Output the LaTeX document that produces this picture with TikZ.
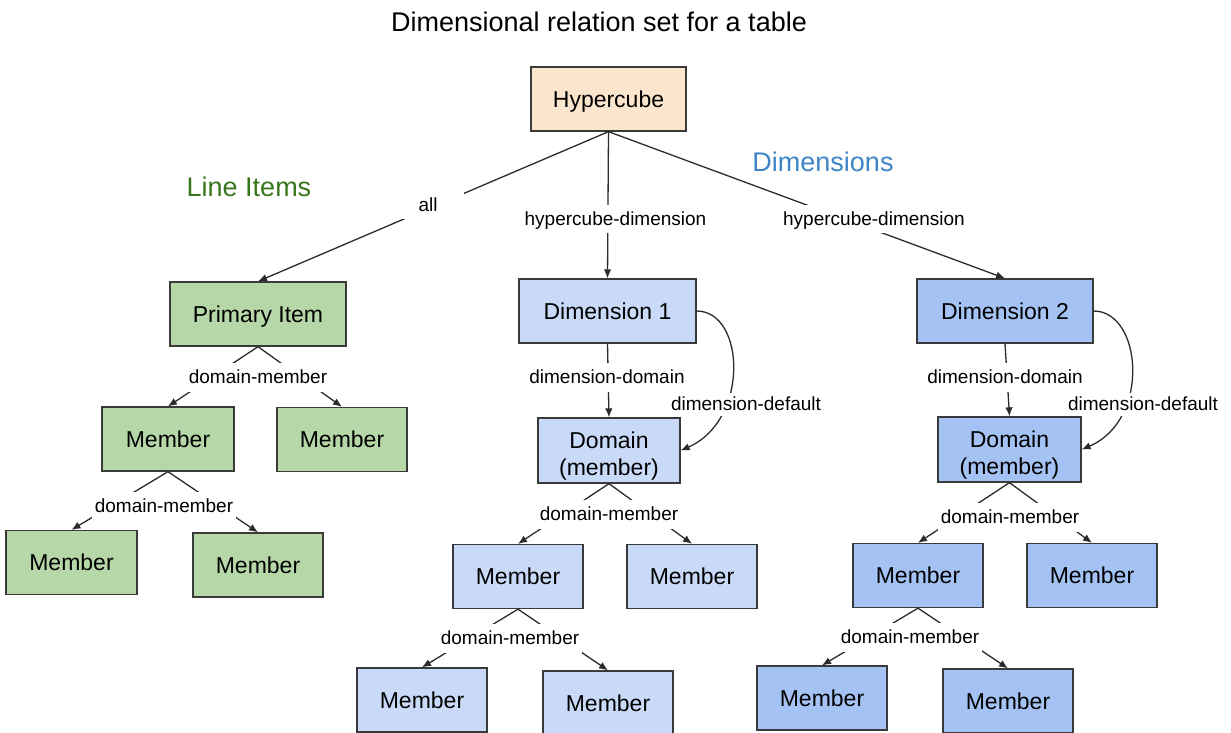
\documentclass[tikz,border=0pt]{standalone}
\usepackage{fontspec}
\setmainfont{Liberation Sans}
\usetikzlibrary{arrows.meta}
\definecolor{peach}{HTML}{FCE5CD}
\definecolor{leaf}{HTML}{B6D7A8}
\definecolor{paleblue}{HTML}{C9DAF8}
\definecolor{midblue}{HTML}{A4C2F4}
\definecolor{itemgreen}{HTML}{38761D}
\definecolor{dimblue}{HTML}{3D85C6}
\definecolor{edgeline}{HTML}{2B2B2B}
\definecolor{frame}{HTML}{3A3A3A}
\begin{document}
\begin{tikzpicture}[x=1pt,y=-1pt,
  box/.style={draw=frame, line width=1.3pt, inner sep=0pt,
    font=\fontsize{23}{27}\selectfont, minimum width=130pt, minimum height=64pt},
  oneline/.style={text height=16.5pt, text depth=0pt},
  hbox/.style={box, oneline, fill=peach},
  gbox/.style={box, oneline, fill=leaf},
  pbox/.style={box, oneline, fill=paleblue},
  mbox/.style={box, oneline, fill=midblue},
  dombox/.style={box, align=center},
  link/.style={draw=edgeline, line width=1.3pt, -{Latex[length=9pt,width=7.5pt]}},
  elabel/.style={fill=white, inner xsep=3pt, inner ysep=0pt, minimum height=29pt,
    font=\fontsize{19}{22}\selectfont, text height=13.6pt, text depth=0pt},
  group/.style={font=\fontsize{27}{32}\selectfont, text height=19.3pt, text depth=0pt, inner sep=0pt}
]
\useasboundingbox (0,0) rectangle (1231,732);
\clip (0,0) rectangle (1231,732);

% title and group captions
\node[group] (title) at (599,22) {Dimensional relation set for a table};
\node[group, text=itemgreen] (items) at (249,186.5) {Line Items};
\node[group, text=dimblue] (dims) at (823,161.5) {Dimensions};

% boxes
\node[hbox, minimum width=155pt] (hyper) at (608.5,99) {Hypercube};

\node[gbox, minimum width=176pt] (prim) at (258,314) {Primary Item};
\node[gbox, minimum width=132pt] (g1) at (168,439) {Member};
\node[gbox] (g2) at (342,439.5) {Member};
\node[gbox, minimum width=131pt] (g3) at (71.5,562.5) {Member};
\node[gbox] (g4) at (258,565) {Member};

\node[pbox, minimum width=177pt] (dim1) at (607.5,311) {Dimension 1};
\node[dombox, fill=paleblue, minimum width=142pt, minimum height=65pt] (dom1) at (609,450.5) {\rule{0pt}{27.5pt}Domain\\(member)};
\node[pbox] (b1) at (518,576.5) {Member};
\node[pbox] (b2) at (692,576.5) {Member};
\node[pbox] (b3) at (422,700) {Member};
\node[pbox] (b4) at (608,703) {Member};

\node[mbox, minimum width=176pt] (dim2) at (1005,311) {Dimension 2};
\node[dombox, fill=midblue, minimum width=143pt, minimum height=65pt] (dom2) at (1009.5,449.5) {\rule{0pt}{27.5pt}Domain\\(member)};
\node[mbox] (c1) at (918,575.5) {Member};
\node[mbox] (c2) at (1092,575.5) {Member};
\node[mbox] (c3) at (822,698) {Member};
\node[mbox] (c4) at (1008,701) {Member};

% connectors
\draw[link] (hyper.south) -- (prim.north);
\draw[link] (hyper.south) -- (dim1.north);
\draw[link] (hyper.south) -- (dim2.north);

\draw[link] (prim.south) -- (g1.north);
\draw[link] (prim.south) -- (g2.north);
\draw[link] (g1.south) -- (g3.north);
\draw[link] (g1.south) -- (g4.north);

\draw[link] (dim1.south) -- (dom1.north);
\draw[link] (dim1.east) .. controls (745,311) and (750,420) .. (dom1.east);
\draw[link] (dom1.south) -- (b1.north);
\draw[link] (dom1.south) -- (b2.north);
\draw[link] (b1.south) -- (b3.north);
\draw[link] (b1.south) -- (b4.north);

\draw[link] (dim2.south) -- (dom2.north);
\draw[link] (dim2.east) .. controls (1142,311) and (1151,420) .. (dom2.east);
\draw[link] (dom2.south) -- (c1.north);
\draw[link] (dom2.south) -- (c2.north);
\draw[link] (c1.south) -- (c3.north);
\draw[link] (c1.south) -- (c4.north);

% connector labels
\node[elabel, minimum width=72pt, minimum height=28pt] (lall) at (428,205) {all};
\node[elabel, minimum height=28pt] (lhd1) at (615.5,219) {hypercube-dimension};
\node[elabel, minimum height=28pt] (lhd2) at (874,219) {hypercube-dimension};

\node[elabel] (ldm1) at (258,377) {domain-member};
\node[elabel] (ldm2) at (164,506) {domain-member};

\node[elabel] (ldd1) at (607,377) {dimension-domain};
\node[elabel, minimum height=23pt] (ldf1) at (746,404) {dimension-default};
\node[elabel] (ldm3) at (609,514) {domain-member};
\node[elabel] (ldm4) at (510,638) {domain-member};

\node[elabel] (ldd2) at (1005,377) {dimension-domain};
\node[elabel, minimum height=23pt] (ldf2) at (1143,404) {dimension-default};
\node[elabel] (ldm5) at (1010,517) {domain-member};
\node[elabel] (ldm6) at (910,637) {domain-member};
\end{tikzpicture}
\end{document}
